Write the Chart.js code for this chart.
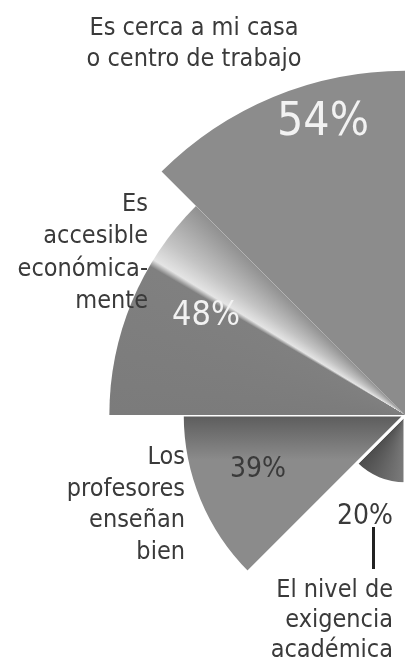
<!DOCTYPE html>
<html>
<head>
<meta charset="utf-8">
<script src="https://cdn.jsdelivr.net/npm/chart.js@4.4.1/dist/chart.umd.min.js"></script>
<style>
  html, body { margin: 0; padding: 0; background: #fff; }
  #wrap { width: 405px; height: 663px; overflow: hidden; position: relative; }
  #chart { position: absolute; left: 0; top: 0; }
</style>
</head>
<body>
<div id="wrap"><canvas id="chart" width="810" height="830"></canvas></div>
<script>
// reasons as printed, top to bottom
const reasons = [
  ['Es cerca a mi casa', 'o centro de trabajo'],
  ['Es', 'accesible', 'económica-', 'mente'],
  ['Los', 'profesores', 'enseñan', 'bien'],
  ['El nivel de', 'exigencia', 'académica']
];
const values = [54, 48, 39, 20];
const radialMin = 11.5;
const radialMax = 61.5;

const FONT = "'DejaVu Sans Condensed', Roboto, sans-serif";

// chart draws clockwise from the bottom, so the list goes in reverse,
// and the right half of the circle stays empty
const chartLabels = reasons.map(r => r.join(' ')).reverse().concat(['', '', '', '']);
const chartValues = values.slice().reverse().concat([null, null, null, null]);

function center(chart) {
  const r = chart.scales.r;
  if (r && r.xCenter) return [r.xCenter, r.yCenter];
  return [chart.width / 2, chart.height / 2];
}

function sliceFill(context) {
  const chart = context.chart;
  const ctx = chart.ctx;
  const [cx, cy] = center(chart);
  const i = context.dataIndex;
  if (i === 0) { // 20%
    const g = ctx.createConicGradient(0, cx, cy);
    g.addColorStop(0.25, '#7c7c7c');
    g.addColorStop(0.375, '#4a4a4a');
    return g;
  }
  if (i === 1) { // 39%
    const g = ctx.createLinearGradient(0, cy, 0, cy + 45);
    g.addColorStop(0, '#5c5c5c');
    g.addColorStop(1, '#8b8b8b');
    return g;
  }
  if (i === 2) { // 48%
    const g = ctx.createConicGradient(0, cx, cy);
    g.addColorStop(0.5, '#7b7b7b');
    g.addColorStop(0.584, '#808080');
    g.addColorStop(0.588, '#e4e4e4');
    g.addColorStop(0.6, '#c4c4c4');
    g.addColorStop(0.625, '#909090');
    return g;
  }
  return '#8c8c8c';
}

const textPlugin = {
  id: 'texts',
  afterDatasetsDraw(chart) {
    const c = chart.ctx;
    c.save();
    c.textBaseline = 'alphabetic';

    // reason labels
    c.fillStyle = '#3a3a3a';
    c.font = '25px ' + FONT;
    c.textAlign = 'center';
    reasons[0].forEach((t, k) => c.fillText(t, 194, 35 + k * 31));
    c.textAlign = 'right';
    reasons[1].forEach((t, k) => c.fillText(t, 148, 211 + k * 32.3));
    reasons[2].forEach((t, k) => c.fillText(t, 185, 464 + k * 31.5));
    reasons[3].forEach((t, k) => c.fillText(t, 393, 597 + k * 30));

    // percentages
    c.textAlign = 'left';
    c.fillStyle = '#f2f2f2';
    c.font = '46px ' + FONT;
    c.fillText(values[0] + '%', 277, 135);
    c.font = '34px ' + FONT;
    c.fillText(values[1] + '%', 172, 325);
    c.fillStyle = '#3a3a3a';
    c.font = '28px ' + FONT;
    c.fillText(values[2] + '%', 230, 477);
    c.fillText(values[3] + '%', 337, 524);

    // pointer under 20%
    c.fillStyle = '#222';
    c.fillRect(372, 527, 3, 42);
    c.restore();
  }
};

new Chart(document.getElementById('chart'), {
  type: 'polarArea',
  data: {
    labels: chartLabels,
    datasets: [{
      data: chartValues,
      backgroundColor: sliceFill,
      borderColor: '#ffffff',
      borderWidth: [3, 3, 0, 0, 0, 0, 0, 0]
    }]
  },
  options: {
    responsive: false,
    animation: false,
    layout: { padding: 0 },
    plugins: {
      legend: { display: false },
      tooltip: { enabled: false }
    },
    scales: {
      r: {
        min: radialMin,
        max: radialMax,
        beginAtZero: false,
        startAngle: 180,
        ticks: { display: false },
        grid: { display: false },
        angleLines: { display: false },
        pointLabels: { display: false }
      }
    }
  },
  plugins: [textPlugin]
});
</script>
</body>
</html>
